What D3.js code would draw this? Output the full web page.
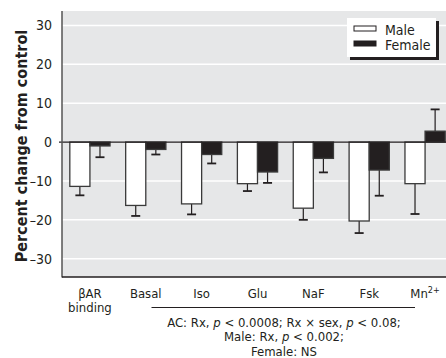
<!DOCTYPE html>
<html>
<head>
<meta charset="utf-8">
<script src="https://cdn.jsdelivr.net/npm/d3@7"></script>
<style>
  html, body { margin: 0; padding: 0; background: #ffffff; }
  svg { display: block; }
  text { font-family: "Liberation Sans Narrow", "DejaVu Sans Condensed", "Liberation Sans", sans-serif; fill: #231f20; }
</style>
</head>
<body>
<svg id="chart" width="446" height="358"></svg>
<script>
// Percent change from control, by measure and sex
const categories = ["βAR binding", "Basal", "Iso", "Glu", "NaF", "Fsk", "Mn2+"];
const maleValues   = [-11.4, -16.3, -15.9, -10.7, -17.0, -20.3, -10.7];
const maleErrors   = [2.3, 2.7, 2.7, 1.9, 3.0, 3.1, 7.8];
const femaleValues = [-1.0, -1.9, -3.2, -7.7, -4.2, -7.2, 2.8];
const femaleErrors = [2.9, 1.3, 2.3, 2.8, 3.6, 6.6, 5.6];
const yTicks = [-30, -20, -10, 0, 10, 20, 30];
const seriesNames = ["Male", "Female"];
const statLines = [
  ["AC: Rx, ", {i: "p"}, " < 0.0008; Rx × sex, ", {i: "p"}, " < 0.08;"],
  ["Male: Rx, ", {i: "p"}, " < 0.002;"],
  ["Female: NS"]
];

const svg = d3.select("#chart");
const plot = { left: 62, top: 11, right: 453, bottom: 277 };
const bg = "#e6e7e8", ink = "#231f20", edge = "#3a3a3a";

const y = d3.scaleLinear().domain([-34.7, 33.7]).range([plot.bottom, plot.top]);
const x = d3.scaleBand().domain(categories).range([plot.left, plot.right])
  .paddingInner(0.28).paddingOuter(0.14);
const xs = d3.scaleBand().domain(seriesNames).range([0, x.bandwidth()]);

// plot background
svg.append("rect")
  .attr("x", plot.left).attr("y", plot.top)
  .attr("width", 446 - plot.left).attr("height", plot.bottom - plot.top)
  .attr("fill", bg);

// white gridlines
svg.append("g").selectAll("line")
  .data(yTicks.filter(d => d !== 0))
  .join("line")
  .attr("x1", plot.left).attr("x2", 446)
  .attr("y1", d => y(d)).attr("y2", d => y(d))
  .attr("stroke", "#ffffff").attr("stroke-width", 1.5);

// y axis labels
const yAxis = d3.axisLeft(y).tickValues(yTicks).tickSize(0).tickPadding(10)
  .tickFormat(d => d < 0 ? "\u2013" + Math.abs(d) : String(d));
const gy = svg.append("g").attr("transform", `translate(${plot.left},0)`).call(yAxis);
gy.select(".domain").remove();
gy.selectAll("text").attr("font-size", 14).attr("fill", ink)
  .style("font-family", '"Liberation Sans Narrow", "DejaVu Sans Condensed", sans-serif');

// bars
const rows = categories.map((c, i) => ({
  c,
  bars: [
    { s: "Male", v: maleValues[i], e: maleErrors[i] },
    { s: "Female", v: femaleValues[i], e: femaleErrors[i] }
  ]
}));

const groups = svg.append("g").selectAll("g")
  .data(rows).join("g")
  .attr("transform", d => `translate(${x(d.c)},0)`);

// error bars (drawn away from zero)
groups.selectAll("g.err")
  .data(d => d.bars).join("g").attr("class", "err")
  .each(function (d) {
    const g = d3.select(this);
    const cx = xs(d.s) + xs.bandwidth() / 2;
    const tip = d.v < 0 ? d.v - d.e : d.v + d.e;
    g.append("line").attr("x1", cx).attr("x2", cx)
      .attr("y1", y(d.v)).attr("y2", y(tip))
      .attr("stroke", ink).attr("stroke-width", 1.2);
    g.append("line").attr("x1", cx - 4.5).attr("x2", cx + 4.5)
      .attr("y1", y(tip)).attr("y2", y(tip))
      .attr("stroke", ink).attr("stroke-width", 1.8);
  });

groups.selectAll("rect")
  .data(d => d.bars).join("rect")
  .attr("x", d => xs(d.s))
  .attr("width", xs.bandwidth())
  .attr("y", d => y(Math.max(0, d.v)))
  .attr("height", d => Math.abs(y(d.v) - y(0)))
  .attr("fill", d => d.s === "Male" ? "#ffffff" : ink)
  .attr("stroke", edge).attr("stroke-width", 1.3);

// zero line, with a short tick left of the axis
svg.append("line")
  .attr("x1", plot.left - 3).attr("x2", 446)
  .attr("y1", y(0)).attr("y2", y(0))
  .attr("stroke", ink).attr("stroke-width", 1.3);

// axis frame
svg.append("line").attr("x1", plot.left).attr("x2", plot.left)
  .attr("y1", plot.top).attr("y2", plot.bottom + 0.5)
  .attr("stroke", "#555").attr("stroke-width", 1.5);
svg.append("line").attr("x1", plot.left).attr("x2", 446)
  .attr("y1", plot.bottom).attr("y2", plot.bottom)
  .attr("stroke", ink).attr("stroke-width", 1.5);

// category labels
const labelG = svg.append("g");
categories.forEach(c => {
  const cx = x(c) + x.bandwidth() / 2;
  const t = labelG.append("text").attr("x", cx).attr("y", 298)
    .attr("text-anchor", "middle").attr("font-size", 13);
  if (c === "βAR binding") {
    t.append("tspan").attr("x", cx).text("βAR");
    t.append("tspan").attr("x", cx).attr("dy", 13.5).text("binding");
  } else if (c === "Mn2+") {
    t.append("tspan").text("Mn");
    t.append("tspan").attr("font-size", 9).attr("dy", -5).text("2+");
  } else {
    t.text(c);
  }
});

// statistics note under the agonist groups
svg.append("line").attr("x1", 151.5).attr("x2", 415)
  .attr("y1", 307.5).attr("y2", 307.5)
  .attr("stroke", ink).attr("stroke-width", 1.2);
statLines.forEach((parts, i) => {
  const t = svg.append("text").attr("x", 284).attr("y", 326.5 + i * 14.6)
    .attr("text-anchor", "middle").attr("font-size", 13);
  parts.forEach(p => {
    if (typeof p === "string") t.append("tspan").text(p);
    else t.append("tspan").attr("font-style", "italic").text(p.i);
  });
});

// y axis title
svg.append("text")
  .attr("transform", "translate(27,146) rotate(-90)")
  .attr("text-anchor", "middle")
  .attr("font-size", 16).attr("font-weight", "bold")
  .text("Percent change from control");

// legend
const lg = svg.append("g").attr("transform", "translate(347,18)");
lg.append("rect").attr("x", 3).attr("y", 3).attr("width", 89).attr("height", 39).attr("fill", ink);
lg.append("rect").attr("x", 0).attr("y", 0).attr("width", 89).attr("height", 39)
  .attr("fill", "#ffffff");
seriesNames.forEach((s, i) => {
  lg.append("rect").attr("x", 7).attr("y", 8 + i * 15).attr("width", 22).attr("height", 5)
    .attr("fill", s === "Male" ? "#ffffff" : ink)
    .attr("stroke", ink).attr("stroke-width", 1);
  lg.append("text").attr("x", 38).attr("y", 17 + i * 15).attr("font-size", 14).text(s);
});
</script>
</body>
</html>
